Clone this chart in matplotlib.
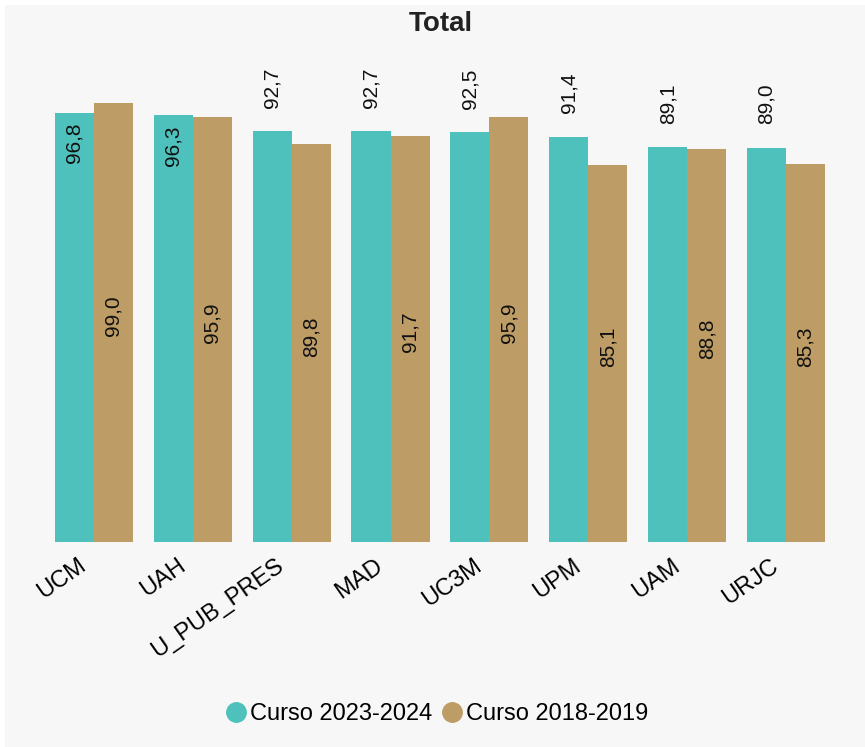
import matplotlib.pyplot as plt
import matplotlib.transforms as mtransforms
import numpy as np

plt.rcParams['font.family'] = ['Liberation Sans', 'DejaVu Sans']

# data
universidades = ["UCM", "UAH", "U_PUB_PRES", "MAD", "UC3M", "UPM", "UAM", "URJC"]
curso_2023 = [96.8, 96.3, 92.7, 92.7, 92.5, 91.4, 89.1, 89.0]
curso_2018 = [99.0, 95.9, 89.8, 91.7, 95.9, 85.1, 88.8, 85.3]
series_names = ["Curso 2023-2024", "Curso 2018-2019"]

TEAL = "#4fc1bd"
TAN = "#bd9c65"
BG = "#f7f7f7"
WIDTH = 0.395
LABEL_SIZE = 15


def fmt(v):
    """Spanish decimal comma."""
    return f"{v:.1f}".replace(".", ",")


fig = plt.figure(figsize=(8.65, 7.47), dpi=100)
fig.patch.set_facecolor("white")
# light grey panel behind everything
panel = plt.Rectangle((0.006, 0.0), 0.994, 0.993, transform=fig.transFigure,
                      facecolor=BG, edgecolor="none", zorder=-10)
fig.add_artist(panel)
ax = fig.add_axes([0.0514, 0.2744, 0.9145, 0.672])
ax.set_zorder(1)
ax.set_facecolor(BG)

x = np.arange(len(universidades))
b1 = ax.bar(x - WIDTH / 2, curso_2023, WIDTH, color=TEAL, label=series_names[0])
b2 = ax.bar(x + WIDTH / 2, curso_2018, WIDTH, color=TAN, label=series_names[1])

# labels for the 2023 series: inside top for tall bars, above otherwise
for rect, v in zip(b1, curso_2023):
    cx = rect.get_x() + rect.get_width() / 2
    if v > 95:
        ax.annotate(fmt(v), (cx, v), xytext=(0, -7), textcoords="offset points",
                    rotation=90, ha="center", va="top", fontsize=LABEL_SIZE,
                    color="#111111")
    else:
        ax.annotate(fmt(v), (cx, v), xytext=(0, 17), textcoords="offset points",
                    rotation=90, ha="center", va="bottom", fontsize=LABEL_SIZE,
                    color="#111111")

# labels for the 2018 series: about the middle of the bar
for rect, v in zip(b2, curso_2018):
    cx = rect.get_x() + rect.get_width() / 2
    ax.text(cx, v / 2 + 1.5, fmt(v), rotation=90, ha="center", va="center",
            fontsize=LABEL_SIZE, color="#111111")

ax.set_xlim(-0.5, len(universidades) - 0.5)
ax.set_ylim(0, 113.3)
ax.set_yticks([])
ax.set_xticks(x)
ax.set_xticklabels(universidades, rotation=35, ha="right",
                   rotation_mode="anchor", fontsize=17)
ax.tick_params(axis="x", length=0, pad=9)
shift = mtransforms.ScaledTranslation(-16 / 100, 0, fig.dpi_scale_trans)
for lbl in ax.get_xticklabels():
    lbl.set_transform(lbl.get_transform() + shift)
for s in ax.spines.values():
    s.set_visible(False)

fig.text(0.51, 0.968, "Total", ha="center", va="center",
         fontsize=20, fontweight="bold", color="#222222")

handles = [plt.Line2D([], [], marker="o", ls="", markersize=14, color=c)
           for c in (TEAL, TAN)]
fig.legend(handles, series_names, loc="center", bbox_to_anchor=(0.505, 0.044),
           ncol=2, frameon=False, fontsize=17, handletextpad=0.15,
           columnspacing=0.4, handlelength=0.9)

fig.savefig("out.png", dpi=100, facecolor=fig.get_facecolor())
